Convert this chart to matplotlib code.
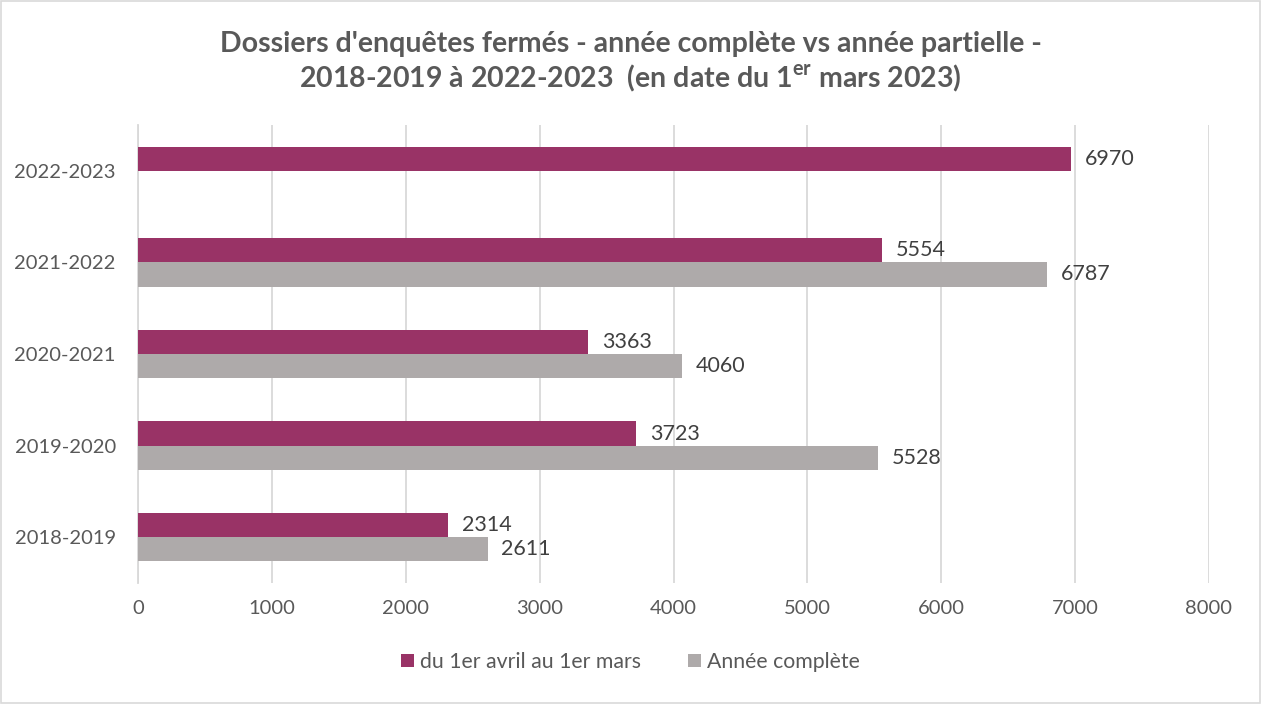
import numpy as np
import matplotlib.pyplot as plt
from matplotlib.patches import Rectangle

plt.rcParams['font.family'] = ['Lato', 'DejaVu Sans']
plt.rcParams['mathtext.fontset'] = 'custom'
plt.rcParams['mathtext.rm'] = 'Lato'
plt.rcParams['mathtext.bf'] = 'Lato:bold'

# data
years = ['2018-2019', '2019-2020', '2020-2021', '2021-2022', '2022-2023']
partial = [2314, 3723, 3363, 5554, 6970]
full = [2611, 5528, 4060, 6787, None]
label_partial = 'du 1er avril au 1er mars'
label_full = 'Année complète'
xticks = [0, 1000, 2000, 3000, 4000, 5000, 6000, 7000, 8000]

c_partial = '#993366'
c_full = '#AEAAAA'
txt = '#595959'

fig = plt.figure(figsize=(12.61, 7.04), dpi=100)
ax = fig.add_axes([138 / 1261, 1 - 583 / 704, (1209 - 138) / 1261, (583 - 125) / 704])

y = np.arange(len(years))
h = 0.264
full_vals = [v if v is not None else 0 for v in full]
b1 = ax.barh(y + h / 2, partial, height=h, color=c_partial, label=label_partial, zorder=3)
b2 = ax.barh(y - h / 2, full_vals, height=h, color=c_full, label=label_full, zorder=3)

for rect, v in zip(b1, partial):
    ax.annotate(str(v), (v, rect.get_y() + rect.get_height() / 2), xytext=(10, 0),
                textcoords='offset points', va='center', ha='left', fontsize=15.5, color='#404040')
for rect, v in zip(b2, full):
    if v is None:
        continue
    ax.annotate(str(v), (v, rect.get_y() + rect.get_height() / 2), xytext=(10, 0),
                textcoords='offset points', va='center', ha='left', fontsize=15.5, color='#404040')

ax.set_xlim(0, 8000)
ax.set_ylim(-0.5, 4.5)
ax.set_xticks(xticks)
ax.set_yticks(y)
ax.set_yticklabels(years)
ax.tick_params(axis='both', length=0, labelsize=14.5, colors=txt)
ax.tick_params(axis='x', pad=12)
ax.tick_params(axis='y', pad=16)
ax.grid(axis='x', color='#D9D9D9', linewidth=1.3, zorder=0)
for s in ['top', 'right', 'bottom']:
    ax.spines[s].set_visible(False)
ax.spines['left'].set_color('#D9D9D9')
ax.spines['left'].set_linewidth(1.3)

fig.text(0.5, 1 - 44 / 704, "Dossiers d'enquêtes fermés - année complète vs année partielle -",
         ha='center', va='center', fontsize=20.5, fontweight='bold', color=txt)
fig.text(0.5, 1 - 78 / 704, r"2018-2019 à 2022-2023  (en date du 1$^{\mathbf{er}}$ mars 2023)",
         ha='center', va='center', fontsize=20.5, fontweight='bold', color=txt)

leg = fig.legend(handles=[b1, b2], loc='center', bbox_to_anchor=(0.5, 1 - 662 / 704), ncol=2,
                 frameon=False, fontsize=15.3, handlelength=0.6, handleheight=0.6,
                 columnspacing=2.2, handletextpad=0.3)
for t in leg.get_texts():
    t.set_color(txt)

fig.patches.append(Rectangle((0.001, 0.001), 0.998, 0.998, transform=fig.transFigure,
                             fill=False, edgecolor='#D9D9D9', linewidth=1.2))

fig.savefig('out.png', dpi=100)
